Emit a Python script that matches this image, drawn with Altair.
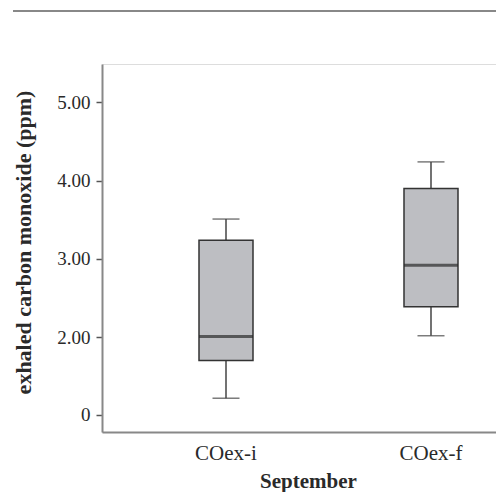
import altair as alt
import pandas as pd

categories = ["COex-i", "COex-f"]
mins = [0.43, 2.02]
q1s = [1.40, 2.39]
medians = [2.01, 2.92]
q3s = [3.24, 3.90]
maxs = [3.51, 4.24]
y_ticks = [0, 2, 3, 4, 5]

df = pd.DataFrame({"cat": categories, "lo": mins, "q1": q1s, "med": medians, "q3": q3s, "hi": maxs})

FONT = "Liberation Serif"
W, H = 394, 368

xscale = alt.Scale(domain=categories, paddingInner=0.5, paddingOuter=0.211, align=0.841)
yscale = alt.Scale(domain=[-0.44, 2, 5.49], range=[H, 273.3, 0])

xenc = alt.X("cat:N", scale=xscale, sort=categories,
             axis=alt.Axis(title="September", labelAngle=0, ticks=False, tickSize=0,
                           labelBaseline="alphabetic", labelPadding=27,
                           labelFont=FONT, labelFontSize=21, labelColor="#2a2a2a",
                           titleFont=FONT, titleFontSize=21, titleFontWeight="bold",
                           titleColor="#2a2a2a", titleX=206, titleY=55,
                           titleBaseline="alphabetic", titleAlign="center",
                           domainColor="#888888", domainWidth=2))

yaxis = alt.Axis(title="exhaled carbon monoxide (ppm)", values=y_ticks,
                 labelExpr="datum.value == 0 ? '0' : format(datum.value, '.2f')",
                 grid=False, tickSize=6, tickWidth=1.5, tickColor="#555555",
                 labelPadding=6, labelFont=FONT, labelFontSize=19, labelColor="#2a2a2a",
                 titleFont=FONT, titleFontSize=22, titleFontWeight="bold",
                 titleColor="#2a2a2a", titleX=-79, titleY=178,
                 titleBaseline="middle", titleAlign="center",
                 domainColor="#888888", domainWidth=2)

base = alt.Chart(df)

whisker = base.mark_rule(color="#444444", strokeWidth=1.5).encode(
    x=xenc, y=alt.Y("lo:Q", scale=yscale, axis=yaxis), y2="hi:Q")

caps_lo = base.mark_tick(color="#444444", size=27, thickness=1.5).encode(
    x="cat:N", y=alt.Y("lo:Q", scale=yscale))
caps_hi = base.mark_tick(color="#444444", size=27, thickness=1.5).encode(
    x="cat:N", y=alt.Y("hi:Q", scale=yscale))

box = base.mark_bar(size=54, fill="#bdbec2", stroke="#333333", strokeWidth=1.5).encode(
    x="cat:N", y=alt.Y("q1:Q", scale=yscale), y2="q3:Q")

median = base.mark_tick(color="#2b2b2b", size=54, thickness=3).encode(
    x="cat:N", y=alt.Y("med:Q", scale=yscale))

top_rule = alt.Chart(df).mark_rule(color="#888888", strokeWidth=2).encode(
    x=alt.value(-89), x2=alt.value(W), y=alt.value(-53))

chart = alt.layer(whisker, caps_lo, caps_hi, box, median, top_rule).properties(
    width=W, height=H,
    autosize=alt.AutoSizeParams(type="none"),
    padding={"left": 94, "top": 56, "right": 0, "bottom": 60},
).configure_view(stroke=None).configure(background="white")

chart.save("out.html", embed_options={"renderer": "svg", "actions": False})
